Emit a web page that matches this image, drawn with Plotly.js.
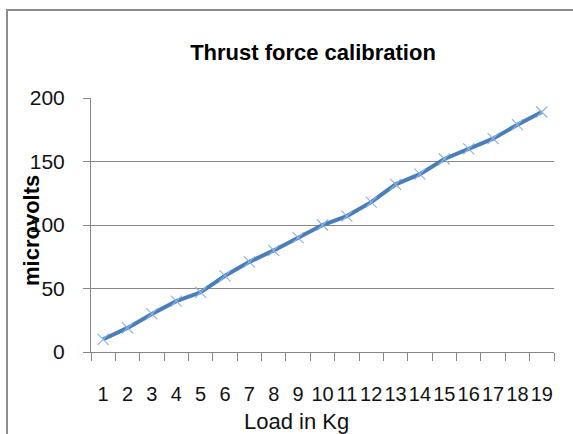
<!DOCTYPE html>
<html>
<head>
<meta charset="utf-8">
<script src="https://cdn.plot.ly/plotly-3.0.1.min.js"></script>
<style>
html,body{margin:0;padding:0;background:#fff;}
#chart{width:573px;height:434px;}
</style>
</head>
<body>
<div id="chart"></div>
<script>
const categories = ["1","2","3","4","5","6","7","8","9","10","11","12","13","14","15","16","17","18","19"];
const microvolts = [10, 19, 30, 40, 47, 60, 71, 80, 90, 100, 107, 118, 132, 140, 152, 160, 168, 179, 189];
const yTicks = [0, 50, 100, 150, 200];

const W = 573, H = 434;
const L = 91, R = 19, T = 98, B = 82;
const pw = W - L - R, ph = H - T - B;
const px = x => (x - L) / pw;
const py = y => (H - B - y) / ph;

const trace = {
  x: categories,
  y: microvolts,
  type: 'scatter',
  mode: 'lines+markers',
  line: {color: '#4A7EBB', width: 4},
  marker: {symbol: 'x-thin', size: 11, line: {color: '#8DB3E2', width: 1.2}, color: '#8DB3E2'},
  hoverinfo: 'none'
};

const fontFam = '"Liberation Sans", Arial, sans-serif';

const layout = {
  width: W, height: H,
  margin: {l: L, r: R, t: T, b: B, pad: 0},
  paper_bgcolor: '#fff',
  plot_bgcolor: '#fff',
  showlegend: false,
  font: {family: fontFam, color: '#000'},
  title: {
    text: '<b>Thrust force calibration</b>',
    font: {family: fontFam, size: 22, color: '#000'},
    xref: 'paper', x: px(313), xanchor: 'center',
    yref: 'container', y: 1 - 52 / H, yanchor: 'middle'
  },
  xaxis: {
    type: 'category',
    categoryorder: 'array', categoryarray: categories,
    range: [-0.5, categories.length - 0.5],
    tickson: 'boundaries',
    tickangle: 0,
    ticks: 'outside', ticklen: 8, tickcolor: '#868686', tickwidth: 1,
    showline: true, linecolor: '#868686', linewidth: 1,
    showgrid: false, zeroline: false,
    tickfont: {family: fontFam, size: 20, color: '#111'},
    ticklabelstandoff: 24
  },
  yaxis: {
    range: [0, 200],
    tickmode: 'array', tickvals: yTicks, ticktext: yTicks.map(String),
    ticks: 'outside', ticklen: 7, tickcolor: '#868686', tickwidth: 1,
    showline: true, linecolor: '#868686', linewidth: 1,
    showgrid: true, gridcolor: '#868686', gridwidth: 1,
    zeroline: false,
    tickfont: {family: fontFam, size: 21, color: '#111'},
    ticklabelstandoff: 14
  },
  annotations: [
    {
      text: '<b>microvolts</b>', textangle: -90,
      xref: 'paper', yref: 'paper', x: px(31), y: py(230),
      xanchor: 'center', yanchor: 'middle', showarrow: false,
      font: {family: fontFam, size: 22, color: '#000'}
    },
    {
      text: 'Load in Kg',
      xref: 'paper', yref: 'paper', x: px(296), y: py(421),
      xanchor: 'center', yanchor: 'middle', showarrow: false,
      font: {family: fontFam, size: 22, color: '#111'}
    }
  ],
  shapes: [
    {
      type: 'rect', xref: 'paper', yref: 'paper',
      x0: px(7), x1: px(590), y0: py(10), y1: py(460),
      line: {color: '#8c8c8c', width: 2}, fillcolor: 'rgba(0,0,0,0)', layer: 'below'
    }
  ]
};

Plotly.newPlot('chart', [trace], layout, {displayModeBar: false, staticPlot: true});
</script>
</body>
</html>
